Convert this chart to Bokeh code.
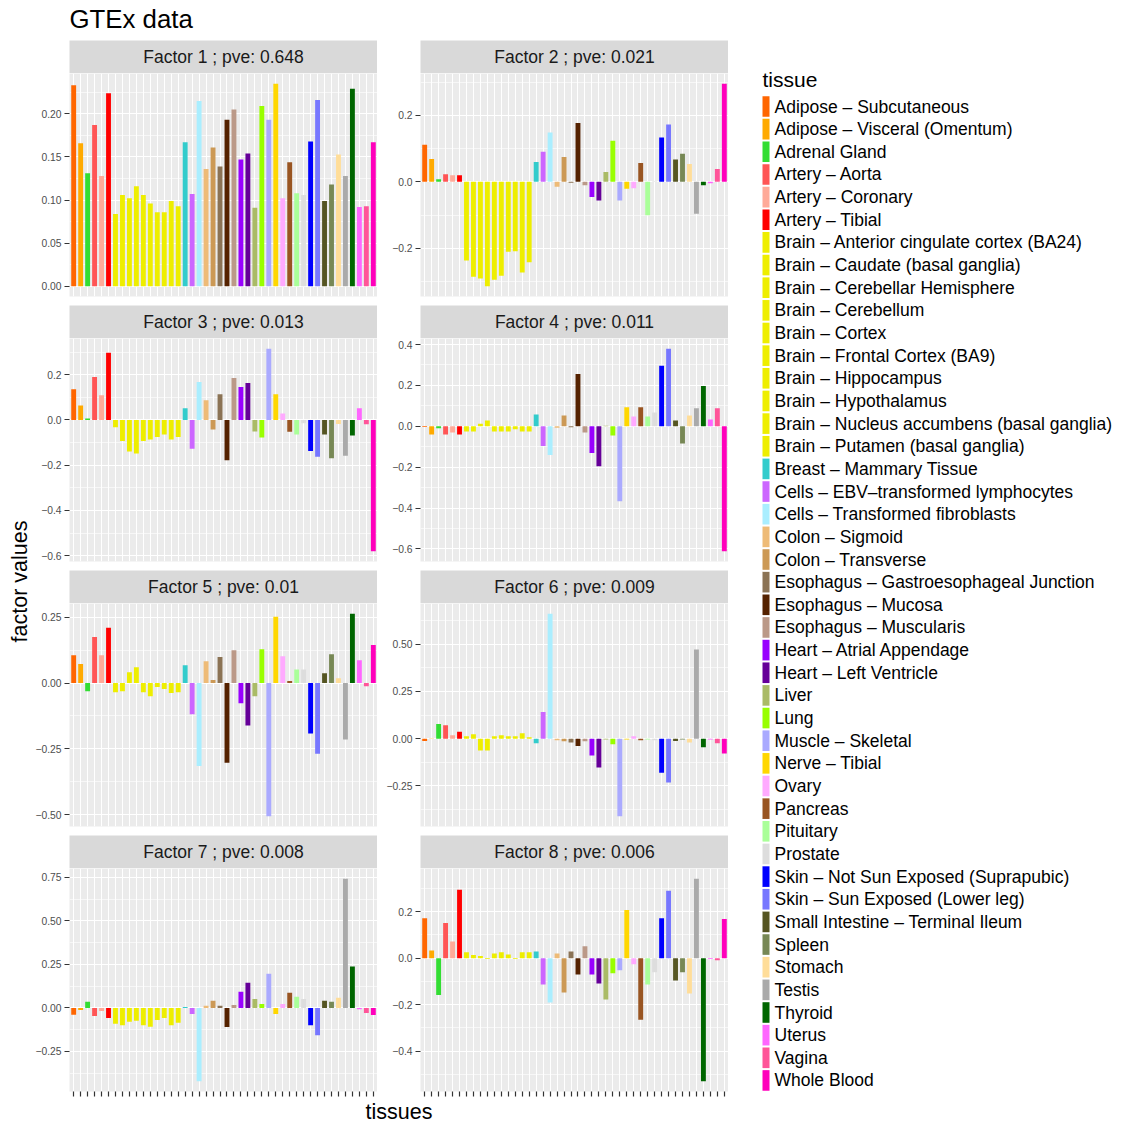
import math
from bokeh.plotting import figure
from bokeh.layouts import row, column
from bokeh.models import Range1d, FixedTicker, CustomJSTickFormatter, ColumnDataSource
from bokeh.core.properties import value
from bokeh.embed import file_html
from bokeh.resources import INLINE

# ---------------- data ----------------
tissues = [
    "Adipose – Subcutaneous", "Adipose – Visceral (Omentum)", "Adrenal Gland",
    "Artery – Aorta", "Artery – Coronary", "Artery – Tibial",
    "Brain – Anterior cingulate cortex (BA24)", "Brain – Caudate (basal ganglia)",
    "Brain – Cerebellar Hemisphere", "Brain – Cerebellum", "Brain – Cortex",
    "Brain – Frontal Cortex (BA9)", "Brain – Hippocampus", "Brain – Hypothalamus",
    "Brain – Nucleus accumbens (basal ganglia)", "Brain – Putamen (basal ganglia)",
    "Breast – Mammary Tissue", "Cells – EBV–transformed lymphocytes",
    "Cells – Transformed fibroblasts", "Colon – Sigmoid", "Colon – Transverse",
    "Esophagus – Gastroesophageal Junction", "Esophagus – Mucosa",
    "Esophagus – Muscularis", "Heart – Atrial Appendage", "Heart – Left Ventricle",
    "Liver", "Lung", "Muscle – Skeletal", "Nerve – Tibial", "Ovary", "Pancreas",
    "Pituitary", "Prostate", "Skin – Not Sun Exposed (Suprapubic)",
    "Skin – Sun Exposed (Lower leg)", "Small Intestine – Terminal Ileum", "Spleen",
    "Stomach", "Testis", "Thyroid", "Uterus", "Vagina", "Whole Blood",
]

tissue_colors = [
    "#FF6600", "#FFAA00", "#33DD33", "#FF5555", "#FFAA99", "#FF0000",
    "#EEEE00", "#EEEE00", "#EEEE00", "#EEEE00", "#EEEE00",
    "#EEEE00", "#EEEE00", "#EEEE00", "#EEEE00", "#EEEE00",
    "#33CCCC", "#CC66FF", "#AAEEFF", "#EEBB77", "#CC9955",
    "#8B7355", "#552200", "#BB9988", "#9900FF", "#660099",
    "#AABB66", "#99FF00", "#AAAAFF", "#FFD700", "#FFAAFF", "#995522",
    "#AAFF99", "#DDDDDD", "#0000FF", "#7777FF", "#555522", "#778855",
    "#FFDD99", "#AAAAAA", "#006600", "#FF66FF", "#FF5599", "#FF00BB",
]

factor_titles = [
    "Factor 1 ; pve: 0.648", "Factor 2 ; pve: 0.021", "Factor 3 ; pve: 0.013",
    "Factor 4 ; pve: 0.011", "Factor 5 ; pve: 0.01", "Factor 6 ; pve: 0.009",
    "Factor 7 ; pve: 0.008", "Factor 8 ; pve: 0.006",
]

factor1 = [0.233, 0.166, 0.131, 0.187, 0.128, 0.224,
           0.084, 0.106, 0.102, 0.116, 0.106, 0.096, 0.086, 0.086, 0.099, 0.093,
           0.167, 0.107, 0.215, 0.136, 0.161, 0.139, 0.193, 0.205, 0.147, 0.154,
           0.091, 0.209, 0.193, 0.235, 0.102, 0.144, 0.108, 0.106, 0.168, 0.216,
           0.099, 0.118, 0.153, 0.128, 0.229, 0.092, 0.093, 0.167]
factor2 = [0.112, 0.069, 0.008, 0.023, 0.020, 0.020,
           -0.237, -0.286, -0.291, -0.315, -0.295, -0.283, -0.211, -0.209, -0.273, -0.242,
           0.060, 0.091, 0.149, -0.015, 0.075, -0.003, 0.177, -0.010, -0.046, -0.056,
           0.030, 0.124, -0.056, -0.021, -0.019, 0.057, -0.101, 0.002, 0.134, 0.173,
           0.067, 0.085, 0.054, -0.096, -0.010, -0.004, 0.039, 0.296]
factor3 = [0.136, 0.064, 0.006, 0.190, 0.109, 0.297,
           -0.033, -0.093, -0.140, -0.149, -0.093, -0.087, -0.075, -0.064, -0.087, -0.075,
           0.051, -0.128, 0.167, 0.087, -0.042, 0.113, -0.178, 0.185, 0.145, 0.163,
           -0.051, -0.078, 0.315, 0.113, 0.028, -0.052, -0.064, -0.015, -0.137, -0.163,
           -0.064, -0.169, -0.018, -0.158, -0.069, 0.051, -0.019, -0.581]
factor4 = [-0.003, -0.040, -0.010, -0.040, -0.030, -0.040,
           -0.025, -0.025, 0.013, 0.028, -0.025, -0.025, -0.025, -0.015, -0.025, -0.025,
           0.058, -0.096, -0.140, -0.007, 0.053, -0.005, 0.256, -0.030, -0.131, -0.195,
           0.003, -0.045, -0.367, 0.093, 0.048, 0.093, 0.048, 0.068, 0.296, 0.380,
           0.028, -0.084, 0.053, 0.088, 0.197, 0.033, 0.088, -0.612]
factor5 = [0.106, 0.072, -0.031, 0.175, 0.106, 0.210,
           -0.035, -0.031, 0.041, 0.060, -0.035, -0.050, -0.015, -0.023, -0.038, -0.035,
           0.068, -0.119, -0.315, 0.083, 0.012, 0.099, -0.303, 0.125, -0.077, -0.161,
           -0.050, 0.129, -0.507, 0.252, 0.102, 0.008, 0.052, 0.052, -0.192, -0.269,
           0.037, 0.110, 0.018, -0.215, 0.264, 0.087, -0.012, 0.145]
factor6 = [-0.013, -0.002, 0.077, 0.071, 0.018, 0.036,
           0.013, 0.023, -0.063, -0.063, 0.013, 0.018, 0.013, 0.013, 0.029, 0.007,
           -0.025, 0.141, 0.661, -0.009, -0.014, -0.020, -0.039, -0.014, -0.089, -0.152,
           -0.004, -0.030, -0.411, -0.004, 0.013, -0.009, -0.004, -0.009, -0.180, -0.232,
           -0.013, -0.004, -0.020, 0.471, -0.046, -0.004, -0.025, -0.079]
factor7 = [-0.039, -0.012, 0.035, -0.046, -0.017, -0.058,
           -0.091, -0.099, -0.079, -0.073, -0.099, -0.108, -0.070, -0.058, -0.099, -0.085,
           0.006, -0.035, -0.422, 0.012, 0.041, 0.012, -0.110, 0.017, 0.093, 0.145,
           0.052, 0.023, 0.197, -0.035, 0.023, 0.087, 0.064, 0.052, -0.099, -0.157,
           0.041, 0.035, 0.058, 0.743, 0.238, -0.008, -0.029, -0.041]
factor8 = [0.172, 0.033, -0.158, 0.151, 0.072, 0.294,
           0.025, 0.013, 0.009, -0.004, 0.020, 0.025, 0.016, -0.004, 0.025, 0.025,
           0.029, -0.113, -0.191, 0.020, -0.148, 0.029, -0.070, 0.051, -0.070, -0.109,
           -0.178, -0.065, -0.052, 0.207, -0.026, -0.265, -0.113, -0.061, 0.172, 0.290,
           -0.096, -0.061, -0.152, 0.342, -0.530, -0.004, -0.009, 0.168]

y_ticks = [
    [0.00, 0.05, 0.10, 0.15, 0.20],
    [-0.2, 0.0, 0.2],
    [-0.6, -0.4, -0.2, 0.0, 0.2],
    [-0.6, -0.4, -0.2, 0.0, 0.2, 0.4],
    [-0.50, -0.25, 0.00, 0.25],
    [-0.25, 0.00, 0.25, 0.50],
    [-0.25, 0.00, 0.25, 0.50, 0.75],
    [-0.4, -0.2, 0.0, 0.2],
]
y_tick_digits = [2, 1, 1, 1, 2, 2, 2, 1]

factors = [factor1, factor2, factor3, factor4, factor5, factor6, factor7, factor8]

title_text = "GTEx data"
x_title = "tissues"
y_title = "factor values"
legend_title = "tissue"

# ---------------- styling / geometry ----------------
FONT = value("Liberation Sans")
FRAME_W = 308
FRAME_H = 223
STRIP_H = 33
GAP = 9
LEFT_B = [37, 43]
YLAB_W = 32
LEG_W = 392
TITLE_H = 40
XLAB_H = 22
GRID_H = 4 * (STRIP_H + FRAME_H + GAP)


def pixel_fig(w, h, bg="white"):
    f = figure(width=w, height=h, x_range=Range1d(0, w), y_range=Range1d(0, h),
               x_axis_location=None, y_axis_location=None, toolbar_location=None,
               output_backend="svg", min_border=0, outline_line_color=None,
               background_fill_color=bg, border_fill_color="white")
    f.xgrid.visible = False
    f.ygrid.visible = False
    return f


def make_strip(text, lb):
    s = figure(width=lb + FRAME_W, height=STRIP_H, x_range=Range1d(0, 1), y_range=Range1d(0, 1),
               x_axis_location=None, y_axis_location=None, toolbar_location=None,
               output_backend="svg", min_border_left=lb, min_border_right=0,
               min_border_top=0, min_border_bottom=0, outline_line_color=None,
               background_fill_color="#D9D9D9", border_fill_color="white")
    s.xgrid.visible = False
    s.ygrid.visible = False
    s.text(x=[0.5], y=[0.5], text=[text], text_align="center", text_baseline="middle",
           text_font=FONT, text_font_size="17.5px", text_color="#1A1A1A")
    return s


def make_panel(vals, ticks, digits, lb, bottom):
    n = len(vals)
    lo = min(0.0, min(vals))
    hi = max(0.0, max(vals))
    pad = 0.05 * (hi - lo)
    p = figure(width=lb + FRAME_W, height=FRAME_H + GAP,
               x_range=Range1d(-0.6, n - 0.4), y_range=Range1d(lo - pad, hi + pad),
               x_axis_location="below" if bottom else None, y_axis_location="left",
               toolbar_location=None, output_backend="svg",
               min_border_left=lb, min_border_right=0, min_border_top=0,
               min_border_bottom=GAP, background_fill_color="#EBEBEB",
               border_fill_color="white", outline_line_color=None)
    src = ColumnDataSource(dict(x=list(range(n)), top=vals, color=tissue_colors))
    p.vbar(x="x", top="top", bottom=0, width=0.7, fill_color="color",
           line_color=None, source=src)

    step = ticks[1] - ticks[0]
    minors = [ticks[0] - step / 2] + [(a + b) / 2 for a, b in zip(ticks[:-1], ticks[1:])] \
        + [ticks[-1] + step / 2]
    yt = FixedTicker(ticks=ticks, minor_ticks=minors)
    xt = FixedTicker(ticks=list(range(n)), minor_ticks=[])

    p.ygrid.ticker = yt
    p.xgrid.ticker = xt
    p.ygrid.grid_line_color = "white"
    p.ygrid.grid_line_width = 1.2
    p.ygrid.minor_grid_line_color = "white"
    p.ygrid.minor_grid_line_width = 0.6
    p.xgrid.grid_line_color = "white"
    p.xgrid.grid_line_width = 1.1

    ay = p.yaxis[0]
    ay.ticker = yt
    ay.formatter = CustomJSTickFormatter(
        args=dict(d=digits),
        code="const s = Math.abs(tick).toFixed(d); return (tick < -1e-12 ? '\\u2212' : '') + s;")
    ay.major_label_text_font = "Liberation Sans"
    ay.major_label_text_font_size = "10.3px"
    ay.major_label_text_color = "#4D4D4D"
    ay.major_label_standoff = 3
    ay.major_tick_out = 5
    ay.major_tick_in = 0
    ay.major_tick_line_color = "#333333"
    ay.major_tick_line_width = 1.2
    ay.minor_tick_line_color = None
    ay.axis_line_color = None

    if bottom:
        ax = p.xaxis[0]
        ax.ticker = xt
        ax.formatter = CustomJSTickFormatter(code="return '';")
        ax.major_label_text_font_size = "1px"
        ax.major_label_standoff = 0
        ax.major_tick_out = 5
        ax.major_tick_in = 0
        ax.major_tick_line_color = "#333333"
        ax.major_tick_line_width = 1.2
        ax.minor_tick_line_color = None
        ax.axis_line_color = None
    return p


# ---------------- facets ----------------
facet_rows = []
for r in range(4):
    cells = []
    for c in range(2):
        k = 2 * r + c
        strip = make_strip(factor_titles[k], LEFT_B[c])
        panel = make_panel(factors[k], y_ticks[k], y_tick_digits[k], LEFT_B[c], r == 3)
        cells.append(column(strip, panel, spacing=0))
    facet_rows.append(row(*cells, spacing=0))
facet_grid = column(*facet_rows, spacing=0)

# ---------------- title ----------------
total_w = YLAB_W + sum(LEFT_B) + 2 * FRAME_W + LEG_W
title_fig = pixel_fig(total_w, TITLE_H)
title_fig.text(x=[YLAB_W + LEFT_B[0]], y=[TITLE_H - 18], text=[title_text],
               text_align="left", text_baseline="middle", text_font=FONT,
               text_font_size="25.8px", text_color="black")

# ---------------- y axis title ----------------
ylab_fig = pixel_fig(YLAB_W, GRID_H)
ylab_fig.text(x=[19.5], y=[GRID_H - 541], text=[y_title], angle=math.pi / 2,
              text_align="center", text_baseline="middle", text_font=FONT,
              text_font_size="21.5px", text_color="black")

# ---------------- x axis title ----------------
xlab_w = YLAB_W + sum(LEFT_B) + 2 * FRAME_W
xlab_fig = pixel_fig(xlab_w, XLAB_H)
xlab_fig.text(x=[YLAB_W + LEFT_B[0] + (FRAME_W * 2 + LEFT_B[1]) / 2], y=[XLAB_H - 11],
              text=[x_title], text_align="center", text_baseline="middle",
              text_font=FONT, text_font_size="21.5px", text_color="black")

# ---------------- legend ----------------
leg = pixel_fig(LEG_W, GRID_H)
leg.text(x=[34], y=[GRID_H - 39], text=[legend_title], text_align="left",
         text_baseline="middle", text_font=FONT, text_font_size="21px", text_color="black")
row_step = 22.65
centers = [GRID_H - (66 + row_step * i) for i in range(len(tissues))]
lsrc = ColumnDataSource(dict(
    yc=centers,
    top=[c + 10.3 for c in centers],
    bottom=[c - 10.3 for c in centers],
    color=tissue_colors,
    label=tissues,
))
leg.quad(left=34, right=41, top="top", bottom="bottom", fill_color="color",
         line_color=None, source=lsrc)
leg.text(x=46, y="yc", text="label", text_align="left", text_baseline="middle",
         text_font=FONT, text_font_size="17.5px", text_color="black", source=lsrc)

layout = column(
    title_fig,
    row(ylab_fig, facet_grid, leg, spacing=0),
    xlab_fig,
    spacing=0,
)

with open("out.html", "w", encoding="utf-8") as fh:
    fh.write(file_html(layout, INLINE, title="GTEx data"))
